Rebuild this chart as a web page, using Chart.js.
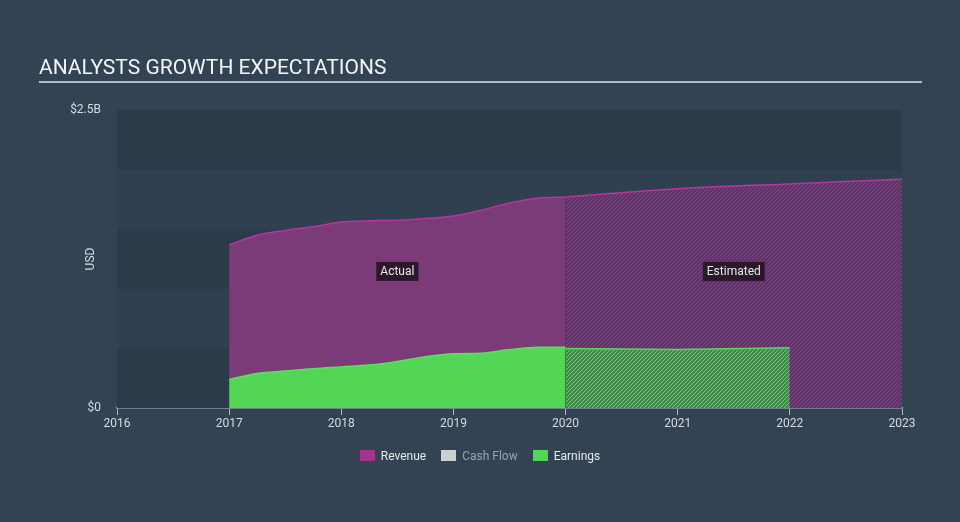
<!DOCTYPE html>
<html>
<head>
<meta charset="utf-8">
<script src="https://cdn.jsdelivr.net/npm/chart.js@4.4.0/dist/chart.umd.min.js"></script>
<style>
    html, body { margin: 0; padding: 0; background: #334353; }
    #wrap { position: relative; width: 960px; height: 522px; font-family: Roboto, sans-serif; }
    #title { position: absolute; left: 39px; top: 55px; font-size: 21px; color: #f2f4f6; }
    #rule { position: absolute; left: 39px; top: 81px; width: 883px; height: 2px; background: #b4bbc3; }
    #legend { position: absolute; left: 0; width: 960px; top: 449px; text-align: center; font-size: 12px; color: #e6e9ec; }
    #legend span { display: inline-block; margin: 0 6px; }
    #legend i { display: inline-block; width: 15px; height: 11px; vertical-align: -1px; margin-right: 6px; }
    canvas { position: absolute; left: 0; top: 0; }
</style>
</head>
<body>
<div id="wrap">
    <canvas id="chart" width="960" height="522"></canvas>
    <div id="title">ANALYSTS GROWTH EXPECTATIONS</div>
    <div id="rule"></div>
    <div id="legend">
        <span><i style="background:#a3358f"></i>Revenue</span>
        <span style="color:#9aa3ad"><i style="background:#cfcfcf"></i>Cash Flow</span>
        <span><i style="background:#53d655"></i>Earnings</span>
    </div>
</div>
<script>
var years = [2016, 2017, 2018, 2019, 2020, 2021, 2022, 2023];

var actualX = [2017, 2017.25, 2017.5, 2017.75, 2018, 2018.25, 2018.5, 2018.75, 2019, 2019.25, 2019.5, 2019.75, 2020];
var revenueActual = [1.37, 1.45, 1.49, 1.52, 1.56, 1.57, 1.575, 1.59, 1.61, 1.66, 1.72, 1.76, 1.77];
var earningsActual = [0.24, 0.29, 0.31, 0.33, 0.345, 0.36, 0.39, 0.43, 0.455, 0.46, 0.49, 0.51, 0.51];

var estX = [2020, 2021, 2022, 2023];
var revenueEst = [1.77, 1.84, 1.88, 1.92];
var earningsEst = [0.50, 0.49, 0.505];

var yTicks = [0, 2.5];
var bands = [[0, 0.5], [1, 1.5], [2, 2.5]];
var notes = [{ text: 'Actual', x: 2018.5, y: 1.15 }, { text: 'Estimated', x: 2021.5, y: 1.15 }];

function pts(xs, ys) {
    var out = [];
    for (var i = 0; i < ys.length; i++) out.push({ x: xs[i], y: ys[i] });
    return out;
}

function hatch(base, stripe) {
    var c = document.createElement('canvas');
    c.width = 4; c.height = 4;
    var g = c.getContext('2d');
    g.fillStyle = base;
    g.fillRect(0, 0, 4, 4);
    g.strokeStyle = stripe;
    g.lineWidth = 1;
    g.beginPath();
    g.moveTo(-1, 5); g.lineTo(5, -1);
    g.moveTo(-1, 1); g.lineTo(1, -1);
    g.moveTo(3, 5); g.lineTo(5, 3);
    g.stroke();
    return g.createPattern(c, 'repeat');
}

var backdrop = {
    id: 'backdrop',
    beforeDatasetsDraw: function(chart) {
        var ctx = chart.ctx, a = chart.chartArea, y = chart.scales.y;
        ctx.save();
        ctx.fillStyle = '#304050';
        ctx.fillRect(a.left, a.top, a.right - a.left, a.bottom - a.top);
        ctx.fillStyle = '#2d3a49';
        bands.forEach(function(b) {
            var t = y.getPixelForValue(b[1]), btm = y.getPixelForValue(b[0]);
            ctx.fillRect(a.left, t, a.right - a.left, btm - t);
        });
        ctx.restore();
    },
    afterDatasetsDraw: function(chart) {
        var ctx = chart.ctx, x = chart.scales.x, y = chart.scales.y;
        ctx.save();
        ctx.font = '12px Roboto, sans-serif';
        ctx.textAlign = 'center';
        ctx.textBaseline = 'middle';
        notes.forEach(function(n) {
            var px = x.getPixelForValue(n.x), py = y.getPixelForValue(n.y);
            var w = ctx.measureText(n.text).width + 8;
            ctx.fillStyle = 'rgba(35,20,35,0.9)';
            ctx.fillRect(px - w / 2, py - 9, w, 19);
            ctx.fillStyle = '#e8e8e8';
            ctx.fillText(n.text, px, py + 1);
        });
        ctx.translate(91, y.getPixelForValue(1.25));
        ctx.rotate(-Math.PI / 2);
        ctx.fillStyle = '#d5dae0';
        ctx.fillText('USD', 0, 0);
        ctx.restore();
    }
};

var ctx = document.getElementById('chart');
var chart = new Chart(ctx, {
    type: 'line',
    data: {
        datasets: [
            {
                label: 'Earnings',
                data: pts(actualX, earningsActual),
                borderColor: '#5ee05f',
                borderWidth: 1.5,
                backgroundColor: '#53d655',
                fill: 'origin',
                pointRadius: 0,
                cubicInterpolationMode: 'monotone',
                order: 0
            },
            {
                label: 'Earnings est',
                data: pts(estX, earningsEst),
                borderColor: '#56d65a',
                borderWidth: 1.5,
                backgroundColor: hatch('#3f8a47', '#62d765'),
                fill: 'origin',
                pointRadius: 0,
                order: 1
            },
            {
                label: 'Revenue',
                data: pts(actualX, revenueActual),
                borderColor: '#b3379f',
                borderWidth: 1.5,
                backgroundColor: '#7b3a78',
                fill: 'origin',
                pointRadius: 0,
                cubicInterpolationMode: 'monotone',
                order: 2
            },
            {
                label: 'Revenue est',
                data: pts(estX, revenueEst),
                borderColor: '#b3379f',
                borderWidth: 1.5,
                backgroundColor: hatch('#62336a', '#8c3c8e'),
                fill: 'origin',
                pointRadius: 0,
                cubicInterpolationMode: 'monotone',
                order: 3
            }
        ]
    },
    options: {
        responsive: false,
        animation: false,
        layout: { padding: { left: 47, right: 58, top: 110, bottom: 84 } },
        plugins: { legend: { display: false }, tooltip: { enabled: false } },
        scales: {
            x: {
                type: 'linear',
                min: years[0],
                max: years[years.length - 1],
                afterBuildTicks: function(s) { s.ticks = years.map(function(v) { return { value: v }; }); },
                afterFit: function(s) { s.height = 30; },
                ticks: { color: '#d5dae0', font: { size: 12, family: 'Roboto' }, padding: 2, callback: function(v) { return String(v); } },
                grid: { drawOnChartArea: false, drawTicks: true, tickLength: 7, color: '#aeb6bf' },
                border: { color: '#aeb6bf', width: 1.5 }
            },
            y: {
                min: 0,
                max: 2.5,
                afterBuildTicks: function(s) { s.ticks = yTicks.map(function(v) { return { value: v }; }); },
                afterFit: function(s) { s.width = 70; },
                ticks: { color: '#d5dae0', font: { size: 12, family: 'Roboto' }, padding: 8, callback: function(v) { return v === 0 ? '$0' : '$' + v + 'B'; } },
                grid: { display: false },
                border: { display: false }
            }
        }
    },
    plugins: [backdrop]
});
</script>
</body>
</html>
